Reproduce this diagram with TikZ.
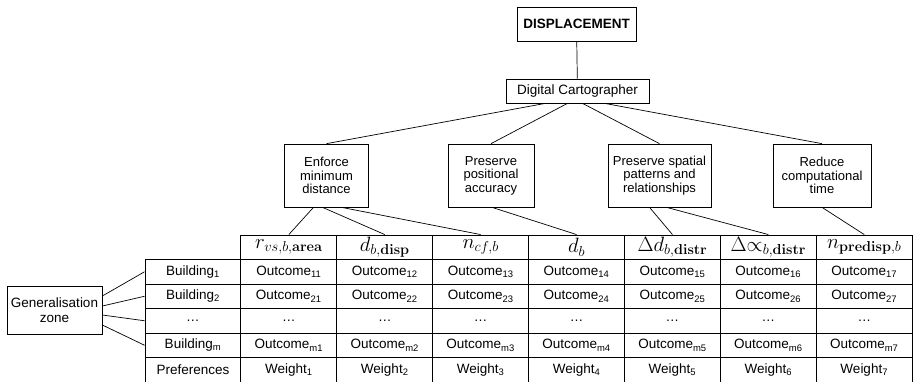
\documentclass[tikz,border=0pt]{standalone}
\usepackage{amsmath}
\usepackage{amssymb}
\usepackage[no-math]{fontspec}
\setmainfont{Liberation Sans}
\usepackage{tikz}
\usetikzlibrary{calc}
\def\colw{95.9}
\def\rowh{24.5}
\newcommand\tie[3]{%
  \draw[link] ($(#1.south)+(#2,0)$) -- (#3.north);
}

\begin{document}
\begin{tikzpicture}
[x=1pt, y=-1pt,
 box/.style={draw, line width=0.7pt, inner sep=0, align=center, minimum height=63pt, font=\fontsize{13}{13.5}\selectfont},
 cell/.style={draw, line width=0.9pt, inner sep=0, minimum width=\colw pt, minimum height=\rowh pt, font=\fontsize{13.5}{15}\selectfont},
 head/.style={cell, font=\fontsize{20}{22}\selectfont},
 link/.style={line width=0.7pt}]
\useasboundingbox (0,0) rectangle (916,381);
\node [box, minimum width=119pt, minimum height=34pt, font=\fontsize{13.5}{15}\selectfont\bfseries] (disp) at (576.5,24) {DISPLACEMENT};
\node [box, minimum width=143pt, minimum height=24pt, font=\fontsize{13.5}{15}\selectfont] (carto) at (577.5,91) {Digital Cartographer};
\draw[link] (disp) -- (carto);
\foreach \nam/\cx/\w/\txt/\dx in {mind/326.5/84/{Enforce\\minimum\\distance}/-32,
                                  posa/491/86/{Preserve\\positional\\accuracy}/-10,
                                  spat/659.5/103/{Preserve spatial\\patterns and\\relationships}/5,
                                  ctim/822/98/{Reduce\\computational\\time}/27}
  { \node [box, minimum width=\w pt] (\nam) at (\cx,175.5) {\txt};
    \draw[link] ($(carto.south)+(\dx,0)$) -- (\nam.north);
  }
% decision table
\foreach \c/\hd in {1/{r_{vs,b,\mathbf{area}}}, 2/{d_{b,\mathbf{disp}}}, 3/{n_{cf,b}}, 4/{d_b},
                    5/{\Delta d_{b,\mathbf{distr}}}, 6/{\Delta{\propto}_{b,\mathbf{distr}}}, 7/{n_{\mathbf{predisp},b}}}
  \node [head] (h\c) at ({145+\colw*\c+\colw/2},{235+\rowh/2}) {$\hd$};
\foreach \r/\s in {1/1, 2/2, 4/m}
  { \node [cell] (b\r) at ({145+\colw/2},{235+\rowh*\r+\rowh/2}) {Building\textsubscript{\s}};
    \foreach \c in {1,...,7}
      \node [cell] (o\r\c) at ({145+\colw*\c+\colw/2},{235+\rowh*\r+\rowh/2}) {Outcome\textsubscript{\s\c}};
  }
\node [cell] (b3) at ({145+\colw/2},{235+\rowh*3+\rowh/2}) {\dots};
\foreach \c in {1,...,7}
  \node [cell] (o3\c) at ({145+\colw*\c+\colw/2},{235+\rowh*3+\rowh/2}) {\dots};
\node [cell] (b5) at ({145+\colw/2},{235+\rowh*5+\rowh/2}) {Preferences};
\foreach \c in {1,...,7}
  \node [cell] (o5\c) at ({145+\colw*\c+\colw/2},{235+\rowh*5+\rowh/2}) {Weight\textsubscript{\c}};
\tie{mind}{-13}{h1}
\tie{mind}{-4} {h2}
\tie{mind}{15} {h3}
\tie{posa}{1}  {h4}
\tie{spat}{-10}{h5}
\tie{spat}{7}  {h6}
\tie{ctim}{0}  {h7}
\node [box, minimum width=95pt, minimum height=48pt, font=\fontsize{13.5}{15}\selectfont] (zone) at (54.5,310) {Generalisation\\zone};
\foreach \r/\dy in {1/-14, 2/-4, 3/5, 4/15}
  \draw[link] ($(zone.east)+(0,\dy)$) -- (b\r.west);
\end{tikzpicture}
\end{document}
